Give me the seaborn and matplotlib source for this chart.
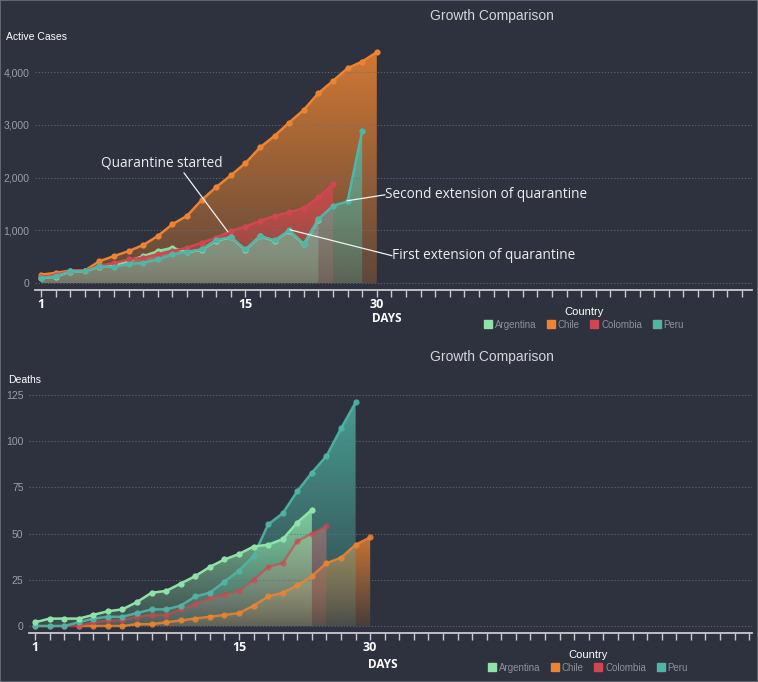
import numpy as np
import pandas as pd
import matplotlib
matplotlib.use("Agg")
import matplotlib.pyplot as plt
import seaborn as sns
from matplotlib.colors import to_rgb
from matplotlib.lines import Line2D
from matplotlib.patches import Polygon, Rectangle

# ---------------- data ----------------
countries = ["Argentina", "Chile", "Colombia", "Peru"]
country_colors = ["#8fe3a8", "#ec8431", "#d0474f", "#4fb6a6"]

cases_argentina = [90, 120, 215, 220, 310, 330, 420, 510, 605, 669,
                   585, 630, 805, 865, 630, 885, 800, 990, 735, 1200]
cases_chile = [159, 191, 236, 236, 414, 510, 605, 720, 892, 1115, 1274, 1573,
               1820, 2041, 2275, 2572, 2793, 3046, 3286, 3602, 3836, 4076, 4203, 4380]
cases_colombia = [110, 150, 225, 230, 330, 380, 446, 478, 541, 605, 669, 764,
                  860, 987, 1070, 1178, 1274, 1338, 1420, 1624, 1877]
cases_peru = [96, 127, 223, 223, 318, 300, 363, 382, 446, 541, 592, 637,
              815, 873, 637, 892, 809, 1000, 745, 1210, 1465, 1548, 2888]

deaths_argentina = [2, 4, 4, 4, 6, 8, 9, 13, 18, 19, 23, 27, 32, 36, 39, 43, 44, 47, 56, 63]
deaths_chile = [np.nan, np.nan, np.nan, 0, 0, 0, 0, 1, 1, 2, 3, 4, 5, 6, 7, 11,
                16, 18, 22, 27, 34, 37, 44, 48]
deaths_colombia = [0, 0, 0, 0, 2, 3, 3, 5, 6, 6, 9, 12, 15, 17, 19, 25, 32, 34, 46, 50, 54]
deaths_peru = [0, 0, 0, 2, 4, 5, 5, 7, 9, 9, 11, 16, 18, 24, 30, 38, 55, 61, 73, 83, 92, 107, 121]

day_tick_labels = ["1", "15", "30"]
day_tick_positions = [1, 15, 24]

cases_ticks = [0, 1000, 2000, 3000, 4000]
deaths_ticks = [0, 25, 50, 75, 100, 125]

annotations_text = ["Quarantine started", "Second extension of quarantine",
                    "First extension of quarantine"]
annotations_target = [(13.8, 972), (21.96, 1560), (18.05, 1010)]
annotations_textpos = [(9.3, 2281), (24.56, 1674), (25.04, 518)]
annotations_linestart = [(10.79, 2091), (24.56, 1674), (25.04, 518)]


def long_df(series):
    rows = []
    for c, vals in zip(countries, series):
        for i, v in enumerate(vals):
            rows.append({"Country": c, "day": i + 1, "value": v})
    return pd.DataFrame(rows)


cases_df = long_df([cases_argentina, cases_chile, cases_colombia, cases_peru])
deaths_df = long_df([deaths_argentina, deaths_chile, deaths_colombia, deaths_peru])

# ---------------- style ----------------
BG = "#2e323e"
sns.set_style("dark", {"axes.facecolor": BG, "figure.facecolor": BG})
plt.rcParams["font.family"] = ["Liberation Sans", "DejaVu Sans"]

palette = dict(zip(countries, country_colors))

fig = plt.figure(figsize=(7.58, 6.82), dpi=100)
fig.patch.set_facecolor(BG)
W, H = 758.0, 682.0


def add_axes_px(left, right, top, bottom):
    return fig.add_axes([left / W, 1 - bottom / H, (right - left) / W, (bottom - top) / H])


ax_top = add_axes_px(35, 752, 45.9, 290)
ax_bot = add_axes_px(29, 752, 385.8, 633.3)


def gradient_fill(ax, x, y, color, z, a_top, a_bot):
    x = np.asarray(x, float)
    y = np.asarray(y, float)
    m = ~np.isnan(y)
    x, y = x[m], y[m]
    verts = [(x[0], 0)] + list(zip(x, y)) + [(x[-1], 0)]
    poly = Polygon(verts, closed=True, facecolor="none", edgecolor="none",
                   transform=ax.transData)
    ax.add_patch(poly)
    grad = np.zeros((256, 1, 4))
    grad[..., :3] = to_rgb(color)
    grad[:, 0, 3] = np.linspace(a_bot, a_top, 256)
    ymax = max(np.nanmax(y), 1e-9)
    im = ax.imshow(grad, extent=(x.min(), x.max(), 0, ymax), origin="lower",
                   aspect="auto", zorder=z, interpolation="bilinear")
    im.set_clip_path(poly)


def draw_panel(ax, df, order, line_alpha, xlim, ylim, yticks, fmt, a_top, a_bot):
    for k, c in enumerate(order):
        sub = df[df["Country"] == c]
        gradient_fill(ax, sub["day"], sub["value"], palette[c], 1.0 + 0.1 * k,
                      a_top, a_bot)
    for k, c in enumerate(order):
        sub = df[(df["Country"] == c) & df["value"].notna()]
        sns.lineplot(data=sub, x="day", y="value", color=palette[c], marker="o",
                     markersize=4.5, markeredgewidth=0, linewidth=1.8,
                     alpha=line_alpha[k], ax=ax, zorder=3 + k, legend=False,
                     estimator=None)
    ax.set_xlim(*xlim)
    ax.set_ylim(*ylim)
    ax.set_xlabel("")
    ax.set_ylabel("")
    for s in ["top", "right", "left"]:
        ax.spines[s].set_visible(False)
    ax.spines["bottom"].set_color("#c8cacf")
    ax.spines["bottom"].set_linewidth(1.3)
    ax.spines["bottom"].set_zorder(30)
    ticks = list(range(1, int(xlim[1]) + 1))
    ax.set_xticks(ticks)
    labels = ["" for _ in ticks]
    for p, lab in zip(day_tick_positions, day_tick_labels):
        labels[p - 1] = lab
    ax.set_xticklabels(labels, fontfamily="Open Sans", fontweight="bold",
                       fontsize=9, color="white")
    ax.tick_params(axis="x", bottom=True, length=5, width=1, color="#c8cacf",
                   direction="out", pad=0.5)
    ax.set_yticks(yticks)
    ax.set_yticklabels([fmt(v) for v in yticks])
    ax.tick_params(axis="y", left=False, length=0, labelcolor="#9a9ea6",
                   labelsize=7.5, pad=4)
    ax.yaxis.grid(True, linestyle=(0, (1.2, 1.6)), color="#6a6f7b", linewidth=0.8,
                  alpha=0.75)
    ax.xaxis.grid(False)
    ax.yaxis.set_zorder(2)
    ax.xaxis.set_zorder(20)
    ax.set_facecolor(BG)


draw_panel(ax_top, cases_df, ["Chile", "Argentina", "Colombia", "Peru"],
           [1.0, 0.9, 1.0, 1.0],
           (0.589, 49.7), (-133, 4500), cases_ticks, lambda v: f"{v:,}", 0.86, 0.26)
draw_panel(ax_bot, deaths_df, ["Chile", "Colombia", "Peru", "Argentina"],
           [0.85, 0.65, 0.9, 1.0],
           (0.588, 50.2), (-3.95, 130), deaths_ticks, lambda v: f"{v}", 0.8, 0.14)

# annotations on the top panel
for txt, tgt, tp, st in zip(annotations_text, annotations_target,
                            annotations_textpos, annotations_linestart):
    ha = "center" if txt.startswith("Quarantine") else "left"
    ax_top.text(tp[0], tp[1], txt, ha=ha, va="center", fontfamily="Open Sans",
                fontsize=9.8, color="#eeeeee", zorder=40)
    ax_top.annotate("", xy=tgt, xytext=st,
                    arrowprops=dict(arrowstyle="-", color="#f2f2f2", lw=0.9,
                                    shrinkA=0, shrinkB=0), zorder=40)

# titles, axis names
for ytitle in [16, 357]:
    fig.text(492 / W, 1 - ytitle / H, "Growth Comparison", ha="center", va="center",
             fontsize=10, color="#d4d6da")
fig.text(6 / W, 1 - 37 / H, "Active Cases", ha="left", va="center", fontsize=7.5,
         color="white")
fig.text(8 / W, 1 - 380 / H, "Deaths", ha="left", va="center", fontsize=7.5,
         color="white")
fig.text(387 / W, 1 - 319 / H, "DAYS", ha="center", va="center", fontsize=8.5,
         fontfamily="Open Sans", fontweight="bold", color="white")
fig.text(383 / W, 1 - 665 / H, "DAYS", ha="center", va="center", fontsize=8.5,
         fontfamily="Open Sans", fontweight="bold", color="white")

# legends
handles = [Line2D([], [], marker="s", linestyle="", color=c, markersize=6)
           for c in country_colors]
for cx, cy in [(584, 318.5), (588, 661.4)]:
    leg = fig.legend(handles, countries, loc="center",
                     bbox_to_anchor=(cx / W, 1 - cy / H), ncol=4, frameon=False,
                     title="Country", fontsize=7, title_fontsize=8,
                     handlelength=0.8, handletextpad=0.3, columnspacing=1.1,
                     labelcolor="#8d9199", borderpad=0, labelspacing=0.2)
    leg.get_title().set_color("white")
    leg._legend_box.sep = 2

# thin frame around the image
fig.patches.append(Rectangle((0, 0), 1, 1, transform=fig.transFigure, fill=False,
                             edgecolor="#6c7079", linewidth=1.2))

fig.savefig("out.png", dpi=100, facecolor=BG)
